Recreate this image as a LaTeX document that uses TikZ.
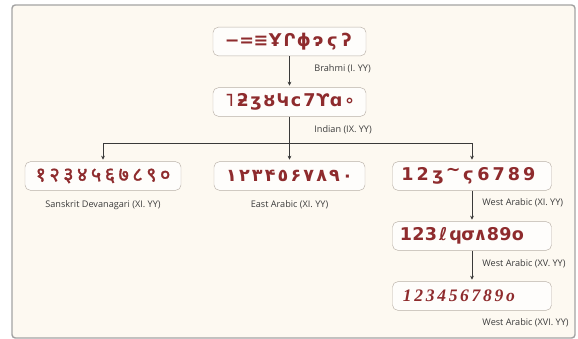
\documentclass[tikz,border=0pt]{standalone}
\usepackage{fontspec}
\setmainfont{Open Sans}
\newfontfamily\glyphfont{DejaVu Sans}
\newfontfamily\devafont[Script=Devanagari,FakeBold=1.6]{Noto Sans}
\newfontfamily\oldfont{Liberation Serif}
\usepackage{xcolor}
\usetikzlibrary{arrows.meta,positioning}
\definecolor{paper}{HTML}{FDF9F1}
\definecolor{ink}{HTML}{8E2B2D}
\definecolor{edge}{HTML}{B9B1A8}
\definecolor{frameline}{HTML}{A3A3A3}
\definecolor{wire}{HTML}{3A3A3A}
\definecolor{caption}{HTML}{3C3C3C}
% one numeral per fixed-width box
\newcommand{\glyphrow}[2]{\foreach \gl in {#2}{\makebox[#1]{\gl}}}

\begin{document}
\begin{tikzpicture}[
      >={Stealth[length=3.4pt,width=3.2pt]},
      numbox/.style={draw=edge,fill=white!70!paper,rounded corners=1.6mm,text width=4.35cm,minimum height=0.86cm,align=center,inner sep=0.12cm,text=ink,font=\glyphfont\bfseries\fontsize{15}{17}\selectfont},
      westbox/.style={numbox,align=left},
      lbl/.style={text=caption,font=\fontsize{7.8}{9}\selectfont,inner sep=1pt},
      arrow/.style={->,draw=wire,line width=0.55pt,shorten >=1.5pt},
      wireline/.style={draw=wire,line width=0.55pt}
    ]
      \useasboundingbox (0,0) rectangle (17.34,-10.17);
      \draw[draw=frameline,fill=paper,line width=1.2pt,rounded corners=1mm] (0.36,-0.15) rectangle (17.25,-10.14);

      \node[numbox] (brahmi) at (8.685,-1.245) {\glyphrow{12.2pt}{−,=,≡,Ұ,Ր,ϕ,ɂ,ϛ,ʔ}};
      \node[numbox] (indian) at (8.685,-3.06) {\glyphrow{11.4pt}{˥,ƻ,ʒ,ȣ,Կ,ϲ,7,ϒ,ɑ,∘}};

      \node[numbox,text width=4.44cm] (sanskrit) at (3.09,-5.28) {\devafont\fontsize{17}{18}\selectfont\glyphrow{11.8pt}{१,२,३,४,५,६,७,८,९,०}};
      \node[numbox,text width=4.29cm] (eastar) at (8.685,-5.28) {\glyphrow{11pt}{۱,۲,۳,۴,٥,۶,۷,۸,۹,۰}};
      \node[westbox,text width=4.53cm] (westxi) at (14.16,-5.28) {\hspace{0.1cm}\glyphrow{13pt}{1,2,ʒ,\raisebox{0.5ex}{\textasciitilde},ϛ,6,7,8,9}};
      \node[westbox,text width=4.53cm] (westxv) at (14.16,-7.08) {\hspace{0.1cm}\glyphrow{10.6pt}{1,2,3,ℓ,ϥ,σ,∧,8,9,o}};
      \node[westbox,text width=4.53cm,font=\oldfont\bfseries\itshape\fontsize{15}{17}\selectfont] (westxvi) at (14.16,-8.88) {\hspace{0.15cm}\glyphrow{9.8pt}{1,2,3,4,5,6,7,8,9,o}};

      \node[lbl,anchor=west] (lbrahmi) at (9.39,-2.07) {Brahmi (I. YY)};
      \node[lbl,anchor=west] (lindian) at (9.39,-3.9) {Indian (IX. YY)};
      \node[lbl,below=0.26cm of sanskrit] (lsanskrit) {Sanskrit Devanagari (XI. YY)};
      \node[lbl,below=0.26cm of eastar] (leastar) {East Arabic (XI. YY)};
      \node[lbl,anchor=west] (lwestxi) at (14.43,-6.09) {West Arabic (XI. YY)};
      \node[lbl,anchor=west] (lwestxv) at (14.43,-7.92) {West Arabic (XV. YY)};
      \node[lbl,anchor=east] (lwestxvi) at (17.1,-9.69) {West Arabic (XVI. YY)};

      \coordinate (split) at (8.685,-4.29);
      \draw[arrow] (brahmi.south) -- (indian.north);
      \draw[wireline] (indian.south) -- (split);
      \draw[arrow] (split) -| (sanskrit.north);
      \draw[arrow] (split) -- (eastar.north);
      \draw[arrow] (split) -| (westxi.north);
      \draw[arrow] (westxi.south) -- (westxv.north);
      \draw[arrow] (westxv.south) -- (westxvi.north);
\end{tikzpicture}
\end{document}
